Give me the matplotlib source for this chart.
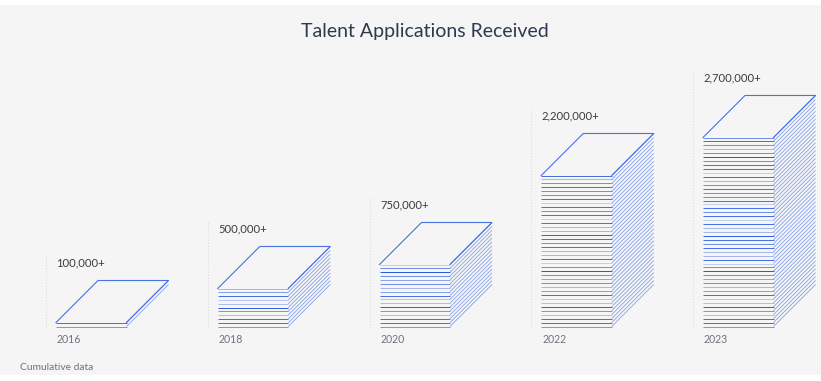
import matplotlib
matplotlib.use("Agg")
import matplotlib.pyplot as plt

# chart values
years = ["2016", "2018", "2020", "2022", "2023"]
labels = ["100,000+", "500,000+", "750,000+", "2,200,000+", "2,700,000+"]
layers = [1, 10, 16, 38, 48]
stack_heights = [4, 38, 62, 151, 189]

# line strength of each sheet, from the bottom of the stack up
sheet_alpha = [
    0.6, 0.85, 0.85, 0.35, 0.6, 0.95, 0.35, 0.3, 0.85, 0.55, 0.4, 0.65, 0.5,
    0.65, 1.0, 0.65, 0.25, 0.85, 0.4, 0.4, 0.85, 0.65, 0.85, 0.95, 0.4, 0.4,
    0.85, 0.25, 0.85, 0.65, 0.85, 0.25, 0.85, 0.65, 0.65, 0.85, 0.65, 0.4, 0.85,
    0.25, 0.85, 0.85, 0.65, 1.0, 0.65, 0.4, 0.65, 0.85, 0.65,
]

BLUE = "#2a5ae0"
BG = "#f5f5f5"
TEXT = "#3a3c42"
MUTED = "#6d7280"

plt.rcParams["font.family"] = ["Lato", "DejaVu Sans"]

fig = plt.figure(figsize=(8.21, 3.81), dpi=100, facecolor="white")
ax = fig.add_axes([0, 0, 1, 1])
ax.set_xlim(0, 821)
ax.set_ylim(381, 0)
ax.axis("off")

ax.fill_between([0, 821], 5, 375, color=BG, lw=0)

base = 326.5
depth = 42
width = 70.5
step = 161.75

for i, year in enumerate(years):
    left = 56 + step * i
    right = left + width
    top = base - stack_heights[i]
    gap = stack_heights[i] / layers[i]

    # dotted guide
    ax.plot([left - 10, left - 10], [top - depth - 25, base + 1], color="#d8d8d8",
            lw=0.7, ls=(0, (1, 2)))

    # sheets, bottom to top
    for n in range(layers[i] + 1):
        y = base - gap * n
        a = sheet_alpha[n]
        ax.plot([left, right], [y, y], color=BLUE, lw=0.72, alpha=a,
                solid_capstyle="butt", snap=True)
        ax.plot([right, right + depth], [y, y - depth], color=BLUE, lw=0.6,
                alpha=0.55, solid_capstyle="butt")

    # top face
    ax.plot([left, left + depth, right + depth, right],
            [top, top - depth, top - depth, top], color=BLUE, lw=0.8, alpha=0.85)

    ax.text(left + 0.5, top - depth - 18, labels[i], color=TEXT, fontsize=8.1,
            va="center", ha="left")
    ax.text(left + 1, 339.5, year, color=MUTED, fontsize=7.6, va="center", ha="left")

ax.text(424.5, 31, "Talent Applications Received", color="#2f3a4f", fontsize=14.0,
        va="center", ha="center")
ax.text(20, 367.5, "Cumulative data", color=MUTED, fontsize=7.4, va="center", ha="left")

fig.savefig("out.png", dpi=100, facecolor="white")
